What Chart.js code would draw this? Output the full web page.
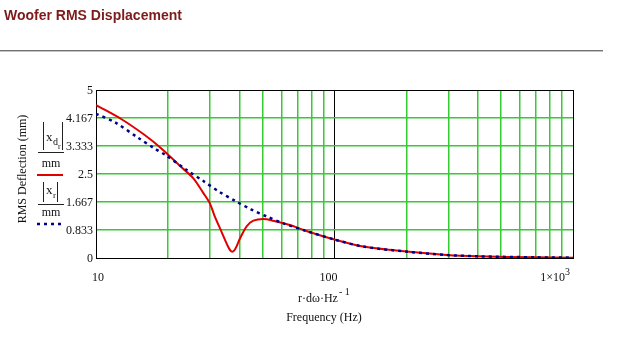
<!DOCTYPE html>
<html>
<head>
    <title>Woofer RMS Displacement</title>
    <script src="https://cdn.jsdelivr.net/npm/chart.js"></script>
    <style>
        body { margin: 0; background: #fff; }
    </style>
</head>
<body>
    <canvas id="deflChart" width="623" height="344"></canvas>
    <script>
        // |x_d_r| : driven cone deflection (mm) vs frequency (Hz)
        const freqDriven = [10, 12.8, 16, 18.8, 22.5, 25.6, 28.2, 30, 31.5, 33.6, 35.9, 37.1, 38.3, 40.2, 42.9, 45.7, 50.3, 55.3, 65, 75, 100, 132, 200, 295, 400, 700, 1000];
        const deflDriven = [4.55, 4.13, 3.66, 3.26, 2.74, 2.37, 1.93, 1.63, 1.23, 0.78, 0.32, 0.19, 0.26, 0.59, 0.95, 1.11, 1.16, 1.11, 0.98, 0.82, 0.55, 0.34, 0.19, 0.09, 0.05, 0.02, 0.01];

        // |x_r| : free cone deflection (mm)
        const freqFree = [10, 12, 15, 17.6, 19.5, 24, 28.2, 32.9, 38.3, 44.6, 52.2, 61, 75, 100, 132, 200, 295, 400, 700, 1000];
        const deflFree = [4.29, 4.04, 3.58, 3.26, 3.07, 2.62, 2.29, 1.97, 1.70, 1.45, 1.23, 1.03, 0.82, 0.55, 0.34, 0.19, 0.09, 0.05, 0.02, 0.01];

        // grid and tick labels
        const gridFreqs = [10, 20, 30, 40, 50, 60, 70, 80, 90, 100, 200, 300, 400, 500, 600, 700, 800, 900, 1000];
        const yTickValues = [0, 0.8333, 1.6667, 2.5, 3.3333, 4.1667, 5];
        const yTickLabels = ['0', '0.833', '1.667', '2.5', '3.333', '4.167', '5'];
        const xLabelFreqs = [10, 100, 1000];
        const xLabelText = ['10', '100', '1\u00d710'];
        const xLabelSup = ['', '', '3'];

        const SERIF = '"Liberation Serif", "Times New Roman", serif';
        const GREEN = '#33cc33';

        const decorations = {
            id: 'decorations',
            afterDraw(chart) {
                const c = chart.ctx;
                const xs = chart.scales.x, ys = chart.scales.y;
                c.save();

                // heading
                c.fillStyle = '#7d1a1a';
                c.font = 'bold 14px "Liberation Sans", Arial, sans-serif';
                c.textBaseline = 'alphabetic';
                c.textAlign = 'left';
                c.fillText('Woofer RMS Displacement', 4, 20);
                c.fillStyle = '#707070';
                c.fillRect(0, 50, 603, 1);
                c.fillStyle = '#c4c4c4';
                c.fillRect(0, 51, 603, 1);

                // y tick labels
                c.fillStyle = '#111';
                c.font = '12px ' + SERIF;
                c.textAlign = 'right';
                c.textBaseline = 'middle';
                yTickValues.forEach((v, i) => {
                    c.fillText(yTickLabels[i], 93, ys.getPixelForValue(v) + 1);
                });

                // x tick labels
                c.textBaseline = 'alphabetic';
                xLabelFreqs.forEach((f, i) => {
                    const px = xs.getPixelForValue(f);
                    if (xLabelSup[i]) {
                        c.font = '10px ' + SERIF;
                        const sw = c.measureText(xLabelSup[i]).width;
                        c.textAlign = 'right';
                        c.fillText(xLabelSup[i], px - 3, 275);
                        c.font = '12px ' + SERIF;
                        c.fillText(xLabelText[i], px - 3 - sw, 281);
                    } else {
                        c.font = '12px ' + SERIF;
                        c.textAlign = 'center';
                        c.fillText(xLabelText[i], px + (i === 0 ? 2 : -6), 281);
                    }
                });

                // x axis expression and title
                c.textAlign = 'left';
                c.font = '12px ' + SERIF;
                const expr = 'r\u00b7d\u03c9\u00b7Hz';
                c.fillText(expr, 298, 302);
                const ew = c.measureText(expr).width;
                c.font = '10px ' + SERIF;
                c.fillText('- 1', 298 + ew + 1, 295);
                c.font = '12px ' + SERIF;
                c.textAlign = 'center';
                c.fillText('Frequency (Hz)', 324, 321);

                // y axis title
                c.save();
                c.translate(26, 169);
                c.rotate(-Math.PI / 2);
                c.textAlign = 'center';
                c.textBaseline = 'alphabetic';
                c.fillText('RMS Deflection (mm)', 0, 0);
                c.restore();

                // series keys: |x_d_r| / mm and |x_r| / mm
                c.strokeStyle = '#222';
                c.lineWidth = 1;
                const vbar = (x, y0, y1) => {
                    c.beginPath(); c.moveTo(x + 0.5, y0); c.lineTo(x + 0.5, y1); c.stroke();
                };
                const hbar = (x0, x1, y) => {
                    c.beginPath(); c.moveTo(x0, y + 0.5); c.lineTo(x1, y + 0.5); c.stroke();
                };
                c.textAlign = 'left';
                c.textBaseline = 'alphabetic';

                vbar(43, 122, 150);
                c.font = '13px ' + SERIF; c.fillText('x', 46, 141);
                c.font = '10px ' + SERIF; c.fillText('d', 53, 145);
                c.font = '8px ' + SERIF; c.fillText('r', 58, 149);
                vbar(62, 122, 150);
                hbar(38, 64, 152);
                c.font = '12px ' + SERIF;
                c.textAlign = 'center';
                c.fillText('mm', 51, 167);

                c.strokeStyle = '#e00000';
                c.lineWidth = 2;
                c.beginPath(); c.moveTo(37, 175); c.lineTo(63, 175); c.stroke();

                c.strokeStyle = '#222';
                c.lineWidth = 1;
                c.textAlign = 'left';
                vbar(43, 182, 202);
                c.font = '13px ' + SERIF; c.fillText('x', 46, 194);
                c.font = '9px ' + SERIF; c.fillText('r', 53, 198);
                vbar(57, 182, 202);
                hbar(38, 64, 204);
                c.font = '12px ' + SERIF;
                c.textAlign = 'center';
                c.fillText('mm', 51, 216);

                c.strokeStyle = '#00008b';
                c.lineWidth = 2.5;
                c.setLineDash([3, 4]);
                c.beginPath(); c.moveTo(37, 224); c.lineTo(63, 224); c.stroke();
                c.setLineDash([]);

                c.restore();
            }
        };

        function pairs(xs, ys) {
            return xs.map((x, i) => ({ x: x, y: ys[i] }));
        }

        const isEdgeX = v => [10, 100, 1000].includes(v);
        const isEdgeY = v => v === 0 || v === 5;

        new Chart(document.getElementById('deflChart').getContext('2d'), {
            type: 'line',
            data: {
                datasets: [
                    {
                        label: '|x_r|',
                        data: pairs(freqFree, deflFree),
                        borderColor: '#00008b',
                        borderWidth: 2.5,
                        borderDash: [3, 4],
                        pointRadius: 0,
                        tension: 0.3,
                        order: 0
                    },
                    {
                        label: '|x_d_r|',
                        data: pairs(freqDriven, deflDriven),
                        borderColor: '#e00000',
                        borderWidth: 2,
                        pointRadius: 0,
                        tension: 0.3,
                        order: 1
                    }
                ]
            },
            options: {
                responsive: false,
                animation: false,
                layout: { padding: { left: 96, right: 50, top: 90, bottom: 86 } },
                plugins: { legend: { display: false }, tooltip: { enabled: false } },
                scales: {
                    x: {
                        type: 'logarithmic',
                        min: 10,
                        max: 1000,
                        afterBuildTicks: s => { s.ticks = gridFreqs.map(v => ({ value: v })); },
                        ticks: { display: false },
                        grid: {
                            drawTicks: false,
                            lineWidth: c => (c.tick && isEdgeX(c.tick.value)) ? 1 : 1.5,
                            color: c => (c.tick && isEdgeX(c.tick.value)) ? '#000' : GREEN
                        },
                        border: { color: '#000', width: 1 }
                    },
                    y: {
                        min: 0,
                        max: 5,
                        afterBuildTicks: s => { s.ticks = yTickValues.map(v => ({ value: v })); },
                        ticks: { display: false },
                        grid: {
                            drawTicks: false,
                            lineWidth: c => (c.tick && isEdgeY(c.tick.value)) ? 1 : 1.5,
                            color: c => (c.tick && isEdgeY(c.tick.value)) ? '#000' : GREEN
                        },
                        border: { color: '#000', width: 1 }
                    }
                }
            },
            plugins: [decorations]
        });
    </script>
</body>
</html>
